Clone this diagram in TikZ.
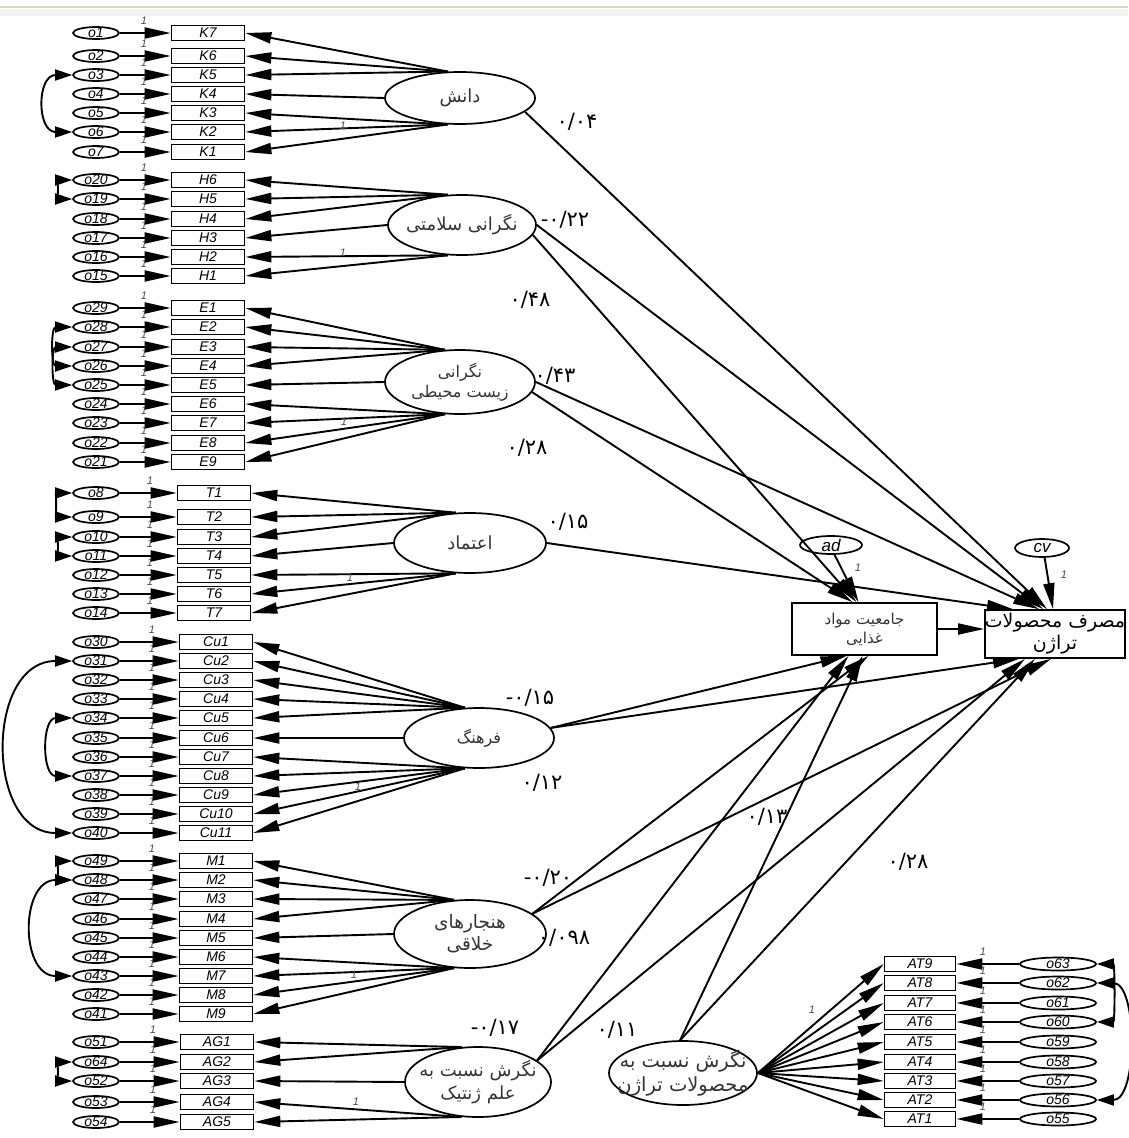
\documentclass[tikz,border=0pt]{standalone}
\usepackage{fontspec}
\setmainfont{Liberation Sans}
\newfontfamily\fa[Script=Arabic]{DejaVu Sans}
\newfontfamily\fanum{DejaVu Sans}
\TeXXeTstate=1
\usepackage{tikz}
\usetikzlibrary{shapes.geometric,arrows.meta}

\definecolor{topbar}{RGB}{205,220,190}

\tikzset{
  err/.style={draw, ellipse, line width=1.7pt, minimum width=46pt, minimum height=12pt, inner xsep=0pt, inner ysep=-2.5pt, font=\itshape\fontsize{14}{14}\selectfont},
  errR/.style={err, minimum width=76pt, minimum height=13pt},
  ind/.style={draw, line width=1.7pt, minimum width=73pt, minimum height=15pt, inner sep=0pt, font=\itshape\fontsize{14}{14}\selectfont},
  lat/.style={draw, ellipse, line width=1.7pt, inner sep=0pt},
  endo/.style={draw, line width=1.7pt, inner sep=0pt},
  fatext/.style={font=\fa\fontsize{18}{22}\selectfont, align=center, text=black!80},
  arr/.style={line width=1.9pt, -{Triangle[length=26pt,width=11pt]}},
  cov/.style={line width=1.9pt, {Triangle[length=17pt,width=11pt]}-{Triangle[length=17pt,width=11pt]}},
  one/.style={font=\itshape\fontsize{11}{11}\selectfont, text=black!70, inner sep=0pt},
  coef/.style={font=\fanum\fontsize{21}{21}\selectfont, inner sep=0pt},
}

% one indicator row on the left: error, box, fixed 1, loading
\newcommand{\indrow}[6]{%
  \node[err] (#1) at (96,-#3) {#1};
  \node[ind] (#2) at (#4,-#3) {#2};
  \node[one] (one#2) at (#4-64,-#3+12) {1};
  \draw[arr] (#1) -- (#2);
  \draw[arr] (#5.#6) -- (#2.east);
}
% one indicator row on the right
\newcommand{\atrow}[3]{%
  \node[errR] (#1) at (1058,-#3) {#1};
  \node[ind, minimum width=71pt] (#2) at (920,-#3) {#2};
  \node[one] (one#2) at (983,-#3+12) {1};
  \draw[arr] (#1) -- (#2);
  \draw[arr] (trans.east) -- (#2.west);
}

\begin{document}
\begin{tikzpicture}[x=1pt,y=1pt]
  \useasboundingbox (0,0) rectangle (1128,-1138);
  % Window edge
  \fill[black!5] (0,-9) rectangle (1128,-16);
  \draw[topbar, line width=1.5pt] (0,-7) -- (1128,-7);

  % Latent variables
  \node[lat, minimum width=150pt, minimum height=52pt, label={[fatext]center:{\beginR دانش\endR}}] (dan) at (460,-98) {};
  \node[lat, minimum width=148pt, minimum height=60pt, label={[fatext]center:{\beginR نگرانی سلامتی\endR}}] (salamat) at (462,-225) {};
  \node[lat, minimum width=150pt, minimum height=64pt, label={[fatext, font=\fa\fontsize{16}{20}\selectfont]center:{\beginR نگرانی\endR\\\beginR زیست محیطی\endR}}] (zist) at (460,-382) {};
  \node[lat, minimum width=152pt, minimum height=60pt, label={[fatext]center:{\beginR اعتماد\endR}}] (etemad) at (470,-543) {};
  \node[lat, minimum width=150pt, minimum height=60pt, label={[fatext, font=\fa\fontsize{16}{20}\selectfont]center:{\beginR فرهنگ\endR}}] (farhang) at (479,-738) {};
  \node[lat, minimum width=152pt, minimum height=68pt, label={[fatext, font=\fa\fontsize{18.5}{22}\selectfont]center:{\beginR هنجارهای\endR\\\beginR خلاقی\endR}}] (hanjar) at (470,-934) {};
  \node[lat, minimum width=146pt, minimum height=70pt, label={[fatext, font=\fa\fontsize{18}{23}\selectfont]center:{\beginR نگرش نسبت به\endR\\\beginR علم ژنتیک\endR}}] (gen) at (478,-1082) {};
  \node[lat, minimum width=148pt, minimum height=64pt, label={[fatext, font=\fa\fontsize{19.5}{24}\selectfont]center:{\beginR نگرش نسبت به\endR\\\beginR محصولات تراژن\endR}}] (trans) at (683,-1073) {};

  % Endogenous variables
  \node[endo, minimum width=145pt, minimum height=52pt, label={[fatext, font=\fa\fontsize{15}{19}\selectfont]center:{\beginR جامعیت مواد\endR\\\beginR غذایی\endR}}] (jam) at (864.5,-629) {};
  \node[endo, minimum width=140pt, minimum height=48pt, label={[fatext, font=\fa\fontsize{19}{22}\selectfont, text=black]center:{\beginR مصرف محصولات\endR\\\beginR تراژن\endR}}] (masraf) at (1055,-634) {};
  \node[err, minimum width=62pt, minimum height=18pt, font=\itshape\fontsize{17}{17}\selectfont] (ad) at (831,-545) {ad};
  \node[err, minimum width=54pt, minimum height=18pt, font=\itshape\fontsize{17}{17}\selectfont] (cv) at (1042,-548) {cv};

  % Indicators
  \foreach \e/\k/\y/\a in {o1/K7/33/115, o2/K6/56/115, o3/K5/75/115, o4/K4/94/west, o5/K3/113/245, o6/K2/132/245, o7/K1/152/245}
    {\indrow{\e}{\k}{\y}{208}{dan}{\a}}
  \foreach \e/\k/\y/\a in {o20/H6/180/115, o19/H5/199/115, o18/H4/219/115, o17/H3/238/west, o16/H2/257/245, o15/H1/276/245}
    {\indrow{\e}{\k}{\y}{208}{salamat}{\a}}
  \foreach \e/\k/\y/\a in {o29/E1/308/115, o28/E2/327/115, o27/E3/347/115, o26/E4/366/115, o25/E5/385/west, o24/E6/404/245, o23/E7/423/245, o22/E8/443/245, o21/E9/462/245}
    {\indrow{\e}{\k}{\y}{208}{zist}{\a}}
  \foreach \e/\k/\y/\a in {o8/T1/493/115, o9/T2/517/115, o10/T3/537/115, o11/T4/556/west, o12/T5/575/245, o13/T6/594/245, o14/T7/613/245}
    {\indrow{\e}{\k}{\y}{214}{etemad}{\a}}
  \foreach \e/\k/\y/\a in {o30/Cu1/642/115, o31/Cu2/661/115, o32/Cu3/680/115, o33/Cu4/699/115, o34/Cu5/718/115, o35/Cu6/738/west, o36/Cu7/757/245, o37/Cu8/776/245, o38/Cu9/795/245, o39/Cu10/814/245, o40/Cu11/833/245}
    {\indrow{\e}{\k}{\y}{216}{farhang}{\a}}
  \foreach \e/\k/\y/\a in {o49/M1/861/115, o48/M2/880/115, o47/M3/899/115, o46/M4/919/115, o45/M5/938/west, o44/M6/957/245, o43/M7/976/245, o42/M8/995/245, o41/M9/1014/245}
    {\indrow{\e}{\k}{\y}{216}{hanjar}{\a}}
  \foreach \e/\k/\y/\a in {o51/AG1/1042/115, o64/AG2/1062/115, o52/AG3/1081/west, o53/AG4/1102/245, o54/AG5/1122/245}
    {\indrow{\e}{\k}{\y}{217}{gen}{\a}}
  \foreach \e/\k/\y in {o63/AT9/964, o62/AT8/983, o61/AT7/1003, o60/AT6/1022, o59/AT5/1042, o58/AT4/1062, o57/AT3/1081, o56/AT2/1100, o55/AT1/1119}
    {\atrow{\e}{\k}{\y}}

  % Structural paths
  \draw[arr] (dan.-12) -- ([xshift=-8pt]masraf.north);
  \draw[arr] (salamat.east) -- ([xshift=-12pt]masraf.north);
  \draw[arr] (salamat.-8) -- ([xshift=-8pt]jam.north);
  \draw[arr] (zist.east) -- ([xshift=-16pt]masraf.north);
  \draw[arr] (zist.-8) -- ([xshift=-12pt]jam.north);
  \draw[arr] (etemad.east) -- ([xshift=-42pt]masraf.north);
  \draw[arr] (farhang.8) -- ([xshift=-18pt]jam.south);
  \draw[arr] (farhang.8) -- ([xshift=-36pt]masraf.south);
  \draw[arr] (hanjar.18) -- ([xshift=4pt]jam.south);
  \draw[arr] (hanjar.18) -- ([xshift=-4pt]masraf.south);
  \draw[arr] (gen.20) -- ([xshift=-16pt]jam.south);
  \draw[arr] (gen.20) -- ([xshift=-30pt]masraf.south);
  \draw[arr] (trans.95) -- ([xshift=-2pt]jam.south);
  \draw[arr] (trans.95) -- ([xshift=-20pt]masraf.south);
  \draw[arr] (jam.east) -- (jam.east -| masraf.west);
  \draw[arr] (ad.-70) -- ([xshift=-6pt]jam.north);
  \draw[arr] (cv.-75) -- ([xshift=-2pt]masraf.north);

  % Covariances
  \draw[cov] (o3.west) to[out=180,in=180,looseness=1.6] (o6.west);
  \draw[cov] (o20.west) to[out=180,in=180,looseness=1.8] (o19.west);
  \draw[cov] (o28.west) to[out=180,in=180,looseness=1.4] (o26.west);
  \draw[cov] (o27.west) to[out=180,in=180,looseness=1.4] (o25.west);
  \draw[cov] (o8.west) to[out=180,in=180,looseness=1.7] (o9.west);
  \draw[cov] (o10.west) to[out=180,in=180,looseness=1.8] (o11.west);
  \draw[cov] (o31.west) to[out=180,in=180,looseness=1.3] (o40.west);
  \draw[cov] (o34.west) to[out=180,in=180,looseness=1.35] (o37.west);
  \draw[cov] (o49.west) to[out=180,in=180,looseness=1.8] (o48.west);
  \draw[cov] (o48.west) to[out=180,in=180,looseness=1.4] (o43.west);
  \draw[cov] (o64.west) to[out=180,in=180,looseness=1.8] (o52.west);
  \draw[cov] (o63.east) to[out=0,in=0,looseness=0.8] (o60.east);
  \draw[cov] (o62.east) to[out=0,in=0,looseness=0.9] (o56.east);

  % Fixed loadings
  \node[one] (ldan) at (343,-126) {1};
  \node[one] (lsal) at (343,-253) {1};
  \node[one] (lzist) at (344,-422) {1};
  \node[one] (letem) at (350,-578) {1};
  \node[one] (lfarh) at (358,-787) {1};
  \node[one] (lhanj) at (354,-975) {1};
  \node[one] (lgen) at (356,-1102) {1};
  \node[one] (ltrans) at (812,-1010) {1};
  \node[one] (lad) at (858,-568) {1};
  \node[one] (lcv) at (1064,-575) {1};

  % Coefficients
  \node[coef] (c1) at (577,-122) {۰/۰۴};
  \node[coef] (c2) at (565,-220) {-۰/۲۲};
  \node[coef] (c3) at (530,-300) {۰/۴۸};
  \node[coef] (c4) at (555,-376) {۰/۴۳};
  \node[coef] (c5) at (527,-448) {۰/۲۸};
  \node[coef] (c6) at (568,-522) {۰/۱۵};
  \node[coef] (c7) at (530,-698) {-۰/۱۵};
  \node[coef] (c8) at (542,-783) {۰/۱۲};
  \node[coef] (c9) at (548,-878) {-۰/۲۰};
  \node[coef] (c10) at (564,-938) {۰/۰۹۸};
  \node[coef] (c11) at (495,-1028) {-۰/۱۷};
  \node[coef] (c12) at (617,-1030) {۰/۱۱};
  \node[coef] (c13) at (767,-817) {۰/۱۳};
  \node[coef] (c14) at (908,-862) {۰/۲۸};
\end{tikzpicture}
\end{document}
